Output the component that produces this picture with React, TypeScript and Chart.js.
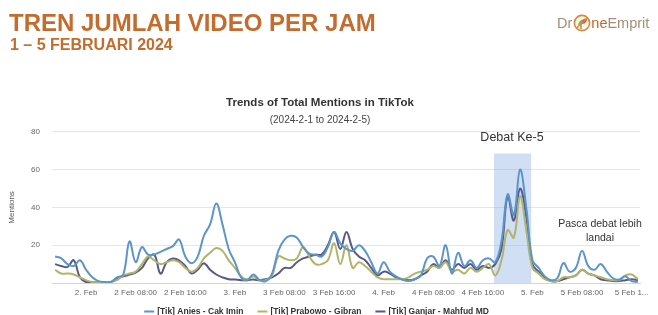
import React, { useEffect, useRef } from "react";
import { Chart, registerables } from "chart.js";

Chart.register(...registerables);

// Hourly data, first point = 1 Feb 2024 19:00 (hour 19 counted from 1 Feb 00:00)
const startHour = 19;

const seriesNames = [
  "[Tik] Anies - Cak Imin",
  "[Tik] Prabowo - Gibran",
  "[Tik] Ganjar - Mahfud MD",
];

const anies = [
  14, 13, 10, 9, 12, 7, 3, 1, 0.5, 0.5, 3, 4.5, 22, 11, 19, 15, 15, 16.5, 18, 19.5,
  23, 14, 10.5, 14, 25, 31, 42, 31, 18, 11, 3, 1.5, 4.5, 1.5, 1, 5, 17, 23, 25, 24,
  19, 15.5, 15, 14, 19, 27, 21, 18, 17, 20, 17, 11, 5, 11, 6, 3.5, 1.8, 1, 2, 4,
  13, 14, 9, 20, 5, 16, 9, 12, 8, 12, 13, 11, 22, 47, 36, 60, 40, 12, 8, 3.5,
  1.5, 2.5, 10.5, 6, 8, 17, 9, 7, 10, 6, 2.5, 1.8, 3.5, 1, 0.5,
];

const prabowo = [
  7, 5, 5, 4.5, 3, 1.5, 0.5, 0.3, 0.3, 0.5, 1.5, 4, 5, 6, 10, 14, 12, 10, 11, 12,
  11, 8, 6, 8, 13, 16, 18.5, 17, 12, 8, 3.5, 2, 3.5, 1.5, 1.5, 4, 14, 13, 12, 13,
  19, 14, 10, 10, 12, 21, 10, 20, 8, 11, 9, 6, 3, 2, 2, 2, 2, 3, 5, 6,
  7, 9, 8, 11, 6, 7, 5, 8, 6, 8, 10, 4, 12, 28, 24, 46, 28, 8, 5, 2,
  1, 1, 3, 3, 4, 7, 5, 4, 3, 2, 1.5, 1.5, 4, 4.5, 2,
];

const ganjar = [
  10, 9, 8.5, 12, 3, 0.5, 0.5, 0.3, 0.3, 0.5, 2.5, 3.5, 4.5, 5.5, 8, 13, 15, 5, 11, 13,
  12, 9, 5, 7, 10.5, 7, 4.5, 3, 2, 1.8, 1.5, 1.5, 1.8, 1.5, 2, 3, 5, 8, 8, 11,
  13, 14, 15, 15, 20, 27, 18, 27, 18, 14, 12, 8, 4, 6, 5, 3, 2, 1.5, 2, 4,
  6, 10, 8, 12, 7, 10, 8, 10, 7, 9, 8, 10, 18, 46, 33, 50, 35, 10, 6, 3,
  1, 1, 2, 3, 4, 7, 5, 4, 2, 1.5, 1, 1, 1.5, 2, 1.5,
];

const tickHours = [24, 32, 40, 48, 56, 64, 72, 80, 88, 96, 104, 112];
const tickLabels = [
  "2. Feb", "2 Feb 08:00", "2 Feb 16:00",
  "3. Feb", "3 Feb 08:00", "3 Feb 16:00",
  "4. Feb", "4 Feb 08:00", "4 Feb 16:00",
  "5. Feb", "5 Feb 08:00", "5 Feb 1...",
];
const yTickValues = [0, 20, 40, 60, 80];

const colors = ["#5b95c9", "#b2b46a", "#56588b"];

// Annotation (debate window band and notes), in data units
const bandFrom = 89.8;
const bandTo = 95.8;
const bandTop = 68.5;
const noteDebate = { x: 92.7, y: 77, text: "Debat Ke-5" };
const notePasca = [
  { x: 106.9, y: 31, text: "Pasca debat lebih" },
  { x: 106.9, y: 23.6, text: "landai" },
];

const FONT = '"Liberation Sans", Arial, Helvetica, sans-serif';

const toPoints = (arr: number[]) => arr.map((v, i) => ({ x: startHour + i, y: v }));

const overlayPlugin = {
  id: "overlay",
  beforeDatasetsDraw(chart: any) {
    const { ctx, scales } = chart;
    const x = scales.x, y = scales.y;
    const x0 = x.getPixelForValue(bandFrom);
    const x1 = x.getPixelForValue(bandTo);
    const y0 = y.getPixelForValue(bandTop);
    const y1 = y.getPixelForValue(0);
    ctx.save();
    ctx.fillStyle = "rgba(125,165,222,0.36)";
    ctx.fillRect(x0, y0, x1 - x0, y1 - y0);
    ctx.restore();
  },
  afterDraw(chart: any) {
    const { ctx, scales } = chart;
    const x = scales.x, y = scales.y;
    ctx.save();
    ctx.fillStyle = "#333";
    ctx.textAlign = "center";
    ctx.textBaseline = "middle";
    ctx.font = `12.5px ${FONT}`;
    ctx.fillText(noteDebate.text, x.getPixelForValue(noteDebate.x), y.getPixelForValue(noteDebate.y));
    ctx.font = `10.5px ${FONT}`;
    for (const n of notePasca) {
      ctx.fillText(n.text, x.getPixelForValue(n.x), y.getPixelForValue(n.y));
    }
    // legend
    ctx.font = `bold 8.5px ${FONT}`;
    const ds = chart.data.datasets;
    const sym = 10, symGap = 3, itemGap = 14;
    const widths = ds.map((d: any) => sym + symGap + ctx.measureText(d.label).width);
    const total = widths.reduce((a: number, b: number) => a + b, 0) + itemGap * (ds.length - 1);
    let cx = 316.5 - total / 2;
    const ly = 311.5;
    ctx.textAlign = "left";
    ds.forEach((d: any, i: number) => {
      ctx.strokeStyle = d.borderColor;
      ctx.lineWidth = 2;
      ctx.beginPath();
      ctx.moveTo(cx, ly);
      ctx.lineTo(cx + sym, ly);
      ctx.stroke();
      ctx.fillStyle = "#333";
      ctx.fillText(d.label, cx + sym + symGap, ly);
      cx += widths[i] + itemGap;
    });
    ctx.restore();
  },
};

export default function App() {
  const canvasRef = useRef<HTMLCanvasElement | null>(null);

  useEffect(() => {
    document.body.style.margin = "0";
    const canvas = canvasRef.current;
    if (!canvas) return;
    const chart = new Chart(canvas, {
      type: "line",
      data: {
        datasets: [anies, prabowo, ganjar].map((arr, i) => ({
          label: seriesNames[i],
          data: toPoints(arr),
          borderColor: colors[i],
          backgroundColor: colors[i],
          borderWidth: 2,
          pointRadius: 0,
          tension: 0.4,
          fill: false,
        })),
      },
      options: {
        animation: false,
        responsive: false,
        devicePixelRatio: 1,
        layout: { padding: { top: 90, right: 18, bottom: 12, left: 0 } },
        plugins: {
          legend: { display: false },
          tooltip: { enabled: false },
          title: {
            display: true,
            text: "Trends of Total Mentions in TikTok",
            color: "#333",
            font: { family: FONT, size: 11.5, weight: "bold" },
            padding: { top: 6, bottom: 2 },
          },
          subtitle: {
            display: true,
            text: "(2024-2-1 to 2024-2-5)",
            color: "#444",
            font: { family: FONT, size: 10 },
            padding: { top: 2, bottom: 6 },
          },
        },
        scales: {
          x: {
            type: "linear",
            min: 18.5,
            max: 113.35,
            afterBuildTicks: (s: any) => {
              s.ticks = tickHours.map((v) => ({ value: v }));
            },
            afterFit: (s: any) => {
              s.height = 20;
            },
            ticks: {
              autoSkip: false,
              maxRotation: 0,
              padding: 5,
              color: "#666",
              font: { family: FONT, size: 8 },
              callback: (_v: any, i: number) => tickLabels[i],
            },
            grid: { display: false, drawTicks: false },
            border: { display: true, color: "#ccd6eb", width: 1 },
          },
          y: {
            min: 0,
            max: 80,
            afterBuildTicks: (s: any) => {
              s.ticks = yTickValues.map((v) => ({ value: v }));
            },
            afterFit: (s: any) => {
              s.width = 52;
            },
            ticks: {
              padding: 12,
              color: "#666",
              font: { family: FONT, size: 8 },
              callback: (v: any) => (v === 0 ? "" : String(v)),
            },
            grid: { color: "#e6e6e6", drawTicks: false },
            border: { display: false },
            title: {
              display: true,
              text: "Mentions",
              color: "#555",
              font: { family: FONT, size: 8 },
              padding: { top: 7, bottom: 0 },
            },
          },
        },
      },
      plugins: [overlayPlugin],
    });
    return () => chart.destroy();
  }, []);

  return (
    <div
      style={{
        position: "fixed",
        left: 0,
        top: 0,
        width: 658,
        height: 315,
        overflow: "hidden",
        background: "#fff",
      }}
    >
      <canvas
        ref={canvasRef}
        width={658}
        height={315}
        style={{ position: "absolute", left: 0, top: 0, display: "block" }}
      />
      <div
        style={{
          position: "absolute",
          left: 9,
          top: 11,
          fontFamily: FONT,
          fontWeight: "bold",
          fontSize: 24,
          lineHeight: 1,
          color: "#c46c2d",
          whiteSpace: "nowrap",
        }}
      >
        TREN JUMLAH VIDEO PER JAM
      </div>
      <div
        style={{
          position: "absolute",
          left: 10,
          top: 37,
          fontFamily: FONT,
          fontWeight: "bold",
          fontSize: 16,
          lineHeight: 1,
          color: "#c46c2d",
          whiteSpace: "nowrap",
        }}
      >
        1 – 5 FEBRUARI 2024
      </div>
      <div
        style={{
          position: "absolute",
          left: 557,
          top: 14,
          display: "flex",
          alignItems: "center",
          fontFamily: FONT,
          fontSize: 14.5,
          lineHeight: 1,
          color: "#a38e78",
          whiteSpace: "nowrap",
        }}
      >
        <span>Dr</span>
        <svg width="18" height="18" viewBox="0 0 18 18" style={{ margin: "0 0.5px" }}>
          <circle cx="9" cy="9" r="7.6" fill="#fdf6ec" stroke="#d9873d" strokeWidth="1.6" />
          <path d="M5 11 C6 6, 9 5, 11 6 C10 9, 8 11, 5 11 Z" fill="#8fb04a" />
          <path d="M9 7 C11 4, 14 4, 14 6 C13 9, 11 10, 9 10 Z" fill="#d9583a" />
          <path d="M8 10 L8 15" stroke="#7a5a3a" strokeWidth="1" />
          <path d="M3.5 14 L14.5 4" stroke="#d9873d" strokeWidth="1.3" />
        </svg>
        <span style={{ color: "#c2672c" }}>ne</span>
        <span>Emprit</span>
      </div>
    </div>
  );
}
